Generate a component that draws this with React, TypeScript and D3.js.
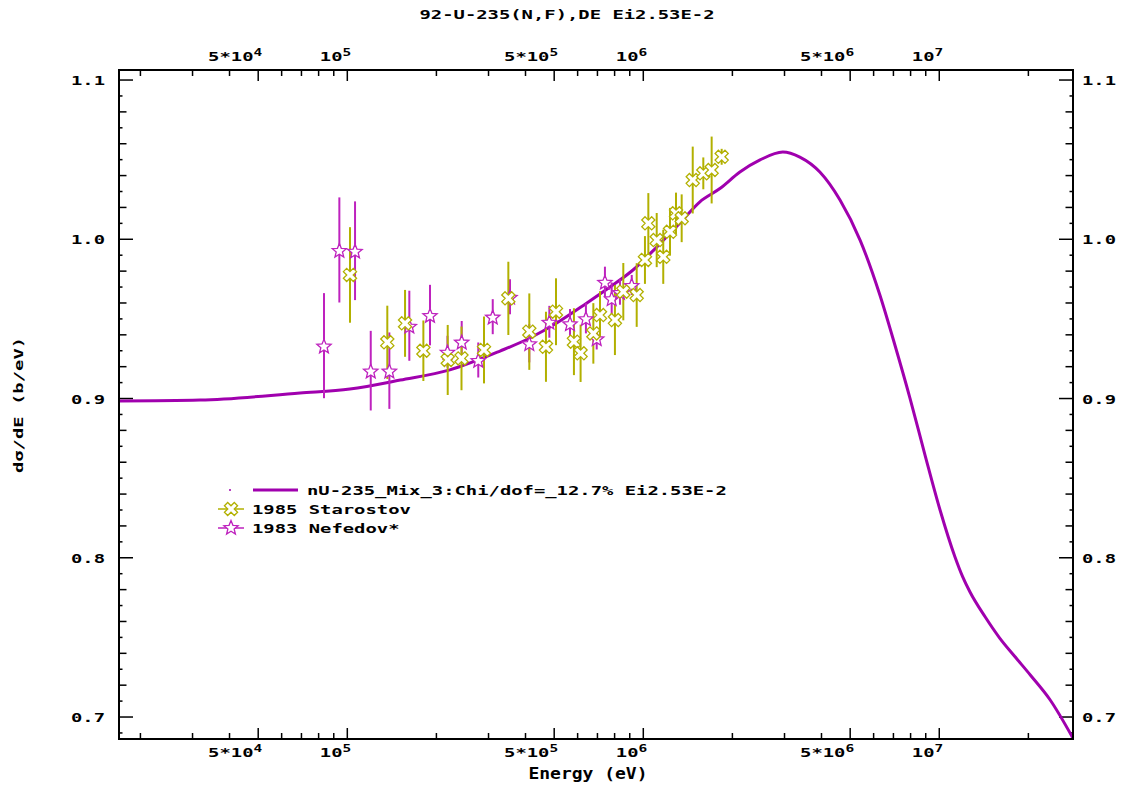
import React from 'react';
import * as d3 from 'd3';

const TITLE = '92-U-235(N,F),DE Ei2.53E-2';
const X_TITLE = 'Energy (eV)';
const Y_TITLE = 'dσ/dE (b/eV)';

// Evaluated curve (energy in eV, value)
const curveEnergy = [1.69e4, 3.18e4, 6.92e4, 1.02e5, 1.51e5, 2.22e5, 3.28e5, 4.14e5, 5.1e5, 6.45e5, 7.72e5, 9.23e5, 1.11e6, 1.33e6, 1.55e6, 1.82e6, 2.12e6, 2.48e6, 2.96e6, 3.38e6, 3.95e6, 4.62e6, 5.4e6, 6.3e6, 7.08e6, 7.96e6, 8.95e6, 1.006e7, 1.13e7, 1.2e7, 1.27e7, 1.43e7, 1.6e7, 1.8e7, 2.03e7, 2.37e7, 2.83e7];
const curveValue = [0.8984, 0.899, 0.9035, 0.906, 0.9116, 0.918, 0.9298, 0.938, 0.9474, 0.96, 0.97, 0.9807, 0.9951, 1.0102, 1.0234, 1.032, 1.0422, 1.0498, 1.0548, 1.0516, 1.0422, 1.0246, 0.9995, 0.965, 0.9336, 0.9003, 0.8645, 0.83, 0.8005, 0.788, 0.7785, 0.7628, 0.7496, 0.738, 0.7264, 0.7107, 0.6867];

// 1985 Starostov
const starostovEnergy = [1.021e5, 1.365e5, 1.567e5, 1.807e5, 2.184e5, 2.431e5, 2.896e5, 3.5e5, 4.12e5, 4.69e5, 5.07e5, 5.83e5, 6.14e5, 6.78e5, 7.14e5, 8.02e5, 8.56e5, 9.5e5, 1.013e6, 1.04e6, 1.11e6, 1.168e6, 1.231e6, 1.29e6, 1.348e6, 1.469e6, 1.595e6, 1.702e6, 1.84e6];
const starostovValue = [0.9776, 0.9353, 0.9472, 0.93, 0.9242, 0.9252, 0.9305, 0.9629, 0.942, 0.9325, 0.9545, 0.9357, 0.9284, 0.9409, 0.9524, 0.9493, 0.9671, 0.965, 0.987, 1.01, 0.9995, 0.989, 1.0047, 1.0163, 1.0132, 1.0372, 1.0414, 1.0435, 1.0518];
const starostovError = [0.03, 0.023, 0.021, 0.019, 0.022, 0.02, 0.021, 0.023, 0.024, 0.022, 0.021, 0.021, 0.018, 0.019, 0.015, 0.022, 0.018, 0.02, 0.015, 0.019, 0.017, 0.017, 0.015, 0.013, 0.015, 0.021, 0.01, 0.021, 0.005];

// 1983 Nefedov*
const nefedovEnergy = [8.34e4, 9.4e4, 1.062e5, 1.2e5, 1.387e5, 1.62e5, 1.903e5, 2.18e5, 2.435e5, 2.77e5, 3.1e5, 3.545e5, 4.12e5, 4.815e5, 5.655e5, 6.4e5, 6.96e5, 7.42e5, 7.82e5, 8.34e5, 9.14e5];
const nefedovValue = [0.9332, 0.9933, 0.9928, 0.9175, 0.9175, 0.9457, 0.9524, 0.9294, 0.9357, 0.9242, 0.9514, 0.9639, 0.9347, 0.9482, 0.9472, 0.9504, 0.9378, 0.9733, 0.9629, 0.9669, 0.9713];
const nefedovError = [0.033, 0.033, 0.031, 0.025, 0.024, 0.022, 0.019, 0.01, 0.013, 0.011, 0.011, 0.011, 0.012, 0.01, 0.009, 0.0095, 0.007, 0.0095, 0.01, 0.008, 0.0063];

const xLabelValues = [5e4, 1e5, 5e5, 1e6, 5e6, 1e7];
const xLabelMantissa = ['5*', '', '5*', '', '5*', ''];
const xLabelExponent = ['4', '5', '5', '6', '6', '7'];
const yLabelValues = [0.7, 0.8, 0.9, 1.0, 1.1];
const legendLabels = ['nU-235_Mix_3:Chi/dof=_12.7% Ei2.53E-2', '1985 Starostov', '1983 Nefedov*'];

const CURVE_COLOR = '#A000AE';
const NEF_COLOR = '#BE22BE';
const STAR_COLOR = '#B2B000';

const L = 119, R = 1073, T = 70, B = 739;
const FONT = 'DejaVu Sans Mono';
const SX = 1.45;

const x = d3.scaleLog().domain([1.693e4, 2.83e7]).range([L, R]);
const y = d3.scaleLinear().domain([0.6862, 1.1063]).range([B, T]);

function Txt(props: any) {
  const { x: tx, y: ty, anchor = 'start', size = 13, sx = SX, rotate, children, fill = '#000' } = props;
  const tr = `translate(${tx},${ty})${rotate ? ` rotate(${rotate})` : ''} scale(${sx},1)`;
  return (
    <text transform={tr} textAnchor={anchor} fontFamily={FONT} fontWeight="bold" fontSize={size} fill={fill}>
      {children}
    </text>
  );
}

function crossPath(s: number) {
  const Lh = 7 * s, a = 2.3 * s;
  const pts = [[-a, -Lh], [a, -Lh], [a, -a], [Lh, -a], [Lh, a], [a, a], [a, Lh], [-a, Lh], [-a, a], [-Lh, a], [-Lh, -a], [-a, -a]];
  const c = Math.cos(Math.PI / 4), sn = Math.sin(Math.PI / 4);
  const r = pts.map(([px, py]) => [px * c - py * sn, px * sn + py * c]);
  return d3.line()(r as any) + 'Z';
}

function starPath(ro: number, ri: number) {
  const pts: number[][] = [];
  for (let i = 0; i < 10; i++) {
    const ang = -Math.PI / 2 + (i * Math.PI) / 5;
    const rr = i % 2 === 0 ? ro : ri;
    pts.push([rr * Math.cos(ang), rr * Math.sin(ang) + 1]);
  }
  return d3.line()(pts as any) + 'Z';
}

const CROSS = crossPath(1);
const STAR = starPath(7.5, 3.3);

export default function App() {
  const xTicks: { v: number; major: boolean }[] = [];
  for (let dec = 4; dec <= 7; dec++) {
    for (let m = 1; m <= 9; m++) {
      const v = m * Math.pow(10, dec);
      if (v >= x.domain()[0] && v <= x.domain()[1]) xTicks.push({ v, major: m === 1 || m === 5 });
    }
  }
  const yTicks: { v: number; kind: number }[] = [];
  for (let i = 69; i <= 110; i++) {
    const v = i / 100;
    yTicks.push({ v, kind: i % 10 === 0 ? 2 : i % 2 === 0 ? 1 : 0 });
  }
  const yLen = [3.5, 7.5, 14];

  const line = d3.line<number>().x((_, i) => x(curveEnergy[i])).y((d) => y(d)).curve(d3.curveMonotoneX);
  const fmt = d3.format('.1f');

  return (
    <svg width={1122} height={787} style={{ position: 'absolute', left: 0, top: 0, background: '#fff' }}>
      <rect x={0} y={0} width={1122} height={787} fill="#fff" />
      <Txt x={567} y={19} anchor="middle">{TITLE}</Txt>

      {xTicks.map((t, i) => (
        <g key={'xt' + i} stroke="#000" strokeWidth={1.5}>
          <line x1={x(t.v)} x2={x(t.v)} y1={B} y2={B - (t.major ? 11 : 6)} />
          <line x1={x(t.v)} x2={x(t.v)} y1={T} y2={T + (t.major ? 11 : 6)} />
        </g>
      ))}
      {yTicks.map((t, i) => (
        <g key={'yt' + i} stroke="#000" strokeWidth={1.5}>
          <line x1={L} x2={L + yLen[t.kind]} y1={y(t.v)} y2={y(t.v)} />
          <line x1={R} x2={R - yLen[t.kind]} y1={y(t.v)} y2={y(t.v)} />
        </g>
      ))}
      {xLabelValues.map((v, i) => (
        <g key={'xl' + i}>
          <Txt x={x(v) + 4} y={757} anchor="end">
            <tspan>{xLabelMantissa[i] + '10'}</tspan>
            <tspan dy={-5} fontSize={10}>{xLabelExponent[i]}</tspan>
          </Txt>
          <Txt x={x(v) + 4} y={61} anchor="end">
            <tspan>{xLabelMantissa[i] + '10'}</tspan>
            <tspan dy={-5} fontSize={10}>{xLabelExponent[i]}</tspan>
          </Txt>
        </g>
      ))}
      {yLabelValues.map((v, i) => (
        <g key={'yl' + i}>
          <Txt x={105} y={y(v) + 5} anchor="end">{fmt(v)}</Txt>
          <Txt x={1082} y={y(v) + 5} anchor="start">{fmt(v)}</Txt>
        </g>
      ))}
      <Txt x={588} y={779} anchor="middle" size={15} sx={1.2}>{X_TITLE}</Txt>
      <Txt x={23} y={405} anchor="middle" rotate={-90}>{Y_TITLE}</Txt>

      <g clipPath="url(#plotclip)">
        <defs>
          <clipPath id="plotclip">
            <rect x={L} y={T} width={R - L} height={B - T} />
          </clipPath>
        </defs>
        <path d={line(curveValue) || ''} fill="none" stroke={CURVE_COLOR} strokeWidth={3} />
        {nefedovEnergy.map((e, i) => (
          <line key={'ne' + i} x1={x(e)} x2={x(e)} y1={y(nefedovValue[i] - nefedovError[i])} y2={y(nefedovValue[i] + nefedovError[i])} stroke={NEF_COLOR} strokeWidth={2} />
        ))}
        {starostovEnergy.map((e, i) => (
          <line key={'se' + i} x1={x(e)} x2={x(e)} y1={y(starostovValue[i] - starostovError[i])} y2={y(starostovValue[i] + starostovError[i])} stroke={STAR_COLOR} strokeWidth={2} />
        ))}
        {nefedovEnergy.map((e, i) => (
          <path key={'nm' + i} d={STAR} transform={`translate(${x(e)},${y(nefedovValue[i])})`} fill="#fff" stroke={NEF_COLOR} strokeWidth={1.3} />
        ))}
        {starostovEnergy.map((e, i) => (
          <path key={'sm' + i} d={CROSS} transform={`translate(${x(e)},${y(starostovValue[i])})`} fill="#fff" stroke={STAR_COLOR} strokeWidth={1.3} />
        ))}
      </g>

      <rect x={L} y={T} width={R - L} height={B - T} fill="none" stroke="#000" strokeWidth={2} />

      <circle cx={230} cy={490} r={1} fill={CURVE_COLOR} />
      <line x1={253} x2={298} y1={490} y2={490} stroke={CURVE_COLOR} strokeWidth={3} />
      <Txt x={307} y={495}>{legendLabels[0]}</Txt>
      <line x1={218} x2={244} y1={509} y2={509} stroke={STAR_COLOR} strokeWidth={1.5} />
      <path d={CROSS} transform="translate(231,509)" fill="#fff" stroke={STAR_COLOR} strokeWidth={1.3} />
      <Txt x={252} y={514}>{legendLabels[1]}</Txt>
      <line x1={218} x2={244} y1={528} y2={528} stroke={NEF_COLOR} strokeWidth={1.5} />
      <path d={STAR} transform="translate(231,527)" fill="#fff" stroke={NEF_COLOR} strokeWidth={1.3} />
      <Txt x={252} y={533}>{legendLabels[2]}</Txt>
    </svg>
  );
}
